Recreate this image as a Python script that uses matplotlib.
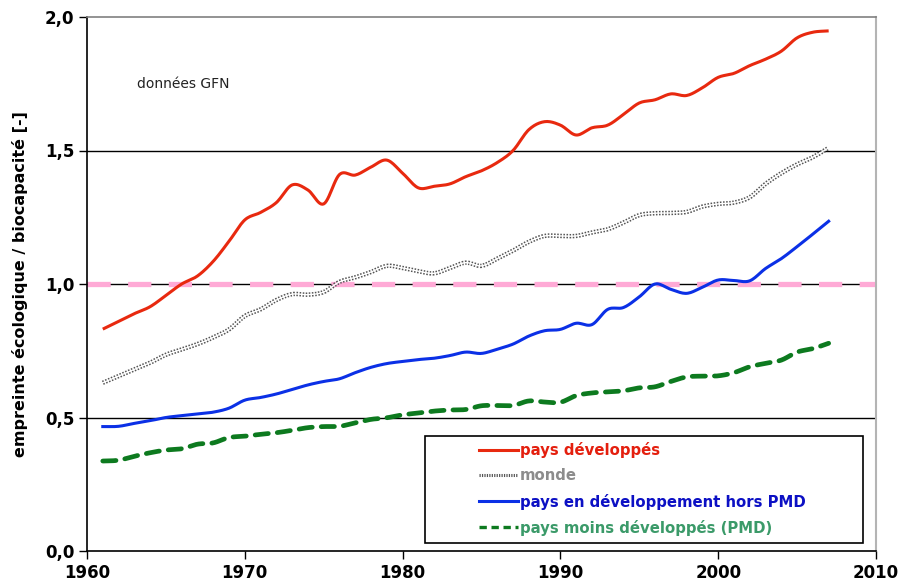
import numpy as np
import matplotlib
matplotlib.use('Agg')
import matplotlib.pyplot as plt
from matplotlib.patches import Rectangle
from matplotlib.lines import Line2D

years = list(range(1961, 2008))

developed = [0.831, 0.860, 0.889, 0.915, 0.957, 1.000, 1.030, 1.085, 1.160, 1.240,
             1.268, 1.305, 1.371, 1.352, 1.300, 1.410, 1.408, 1.438, 1.464, 1.415,
             1.360, 1.366, 1.375, 1.402, 1.424, 1.455, 1.500, 1.578, 1.608, 1.595,
             1.558, 1.585, 1.595, 1.635, 1.678, 1.690, 1.712, 1.706, 1.735, 1.774,
             1.789, 1.818, 1.842, 1.872, 1.922, 1.943, 1.948]

world = [0.630, 0.655, 0.680, 0.705, 0.735, 0.755, 0.775, 0.800, 0.830, 0.880,
         0.905, 0.940, 0.962, 0.960, 0.970, 1.008, 1.025, 1.045, 1.068, 1.060,
         1.048, 1.040, 1.060, 1.080, 1.068, 1.095, 1.125, 1.158, 1.180, 1.180,
         1.180, 1.193, 1.205, 1.230, 1.258, 1.265, 1.266, 1.270, 1.290, 1.300,
         1.305, 1.325, 1.375, 1.415, 1.448, 1.475, 1.510]

developing = [0.466, 0.467, 0.478, 0.488, 0.500, 0.507, 0.513, 0.520, 0.535, 0.565,
              0.575, 0.588, 0.605, 0.622, 0.635, 0.645, 0.668, 0.688, 0.702, 0.710,
              0.717, 0.722, 0.732, 0.745, 0.740, 0.756, 0.775, 0.805, 0.825, 0.830,
              0.853, 0.848, 0.905, 0.912, 0.952, 1.000, 0.980, 0.965, 0.988, 1.015,
              1.013, 1.012, 1.058, 1.095, 1.140, 1.187, 1.235]

least_dev = [0.337, 0.340, 0.355, 0.368, 0.378, 0.383, 0.400, 0.405, 0.425, 0.430,
             0.437, 0.443, 0.452, 0.462, 0.466, 0.467, 0.480, 0.493, 0.499, 0.510,
             0.517, 0.524, 0.528, 0.530, 0.544, 0.545, 0.545, 0.562, 0.558, 0.557,
             0.582, 0.592, 0.596, 0.600, 0.611, 0.615, 0.635, 0.652, 0.655, 0.656,
             0.668, 0.690, 0.703, 0.715, 0.745, 0.758, 0.778]

labels = ['pays développés', 'monde', 'pays en développement hors PMD',
          'pays moins développés (PMD)']
yticks = [0.0, 0.5, 1.0, 1.5, 2.0]
xticks = [1960, 1970, 1980, 1990, 2000, 2010]


def smooth(x, y, n=12):
    # catmull-rom curve through the points, like excel's smoothed lines
    x = np.asarray(x, float)
    y = np.asarray(y, float)
    px = np.concatenate([[2 * x[0] - x[1]], x, [2 * x[-1] - x[-2]]])
    py = np.concatenate([[2 * y[0] - y[1]], y, [2 * y[-1] - y[-2]]])
    t = np.linspace(0, 1, n, endpoint=False)
    xs, ys = [], []
    for i in range(1, len(px) - 2):
        for p, out in ((px, xs), (py, ys)):
            p0, p1, p2, p3 = p[i - 1], p[i], p[i + 1], p[i + 2]
            out.append(0.5 * (2 * p1 + (-p0 + p2) * t
                              + (2 * p0 - 5 * p1 + 4 * p2 - p3) * t ** 2
                              + (-p0 + 3 * p1 - 3 * p2 + p3) * t ** 3))
    xs.append([x[-1]])
    ys.append([y[-1]])
    return np.concatenate(xs), np.concatenate(ys)


fig = plt.figure(figsize=(8.98, 5.84), dpi=100)
ax = fig.add_axes([87 / 898, 33 / 584, 789 / 898, 534 / 584])

ax.set_xlim(1960, 2010)
ax.set_ylim(0, 2.0)

for v in [0.5, 1.0, 1.5]:
    ax.axhline(v, color='black', lw=1, zorder=1)

ax.axhline(1.0, color='#ffaad6', lw=3.8, linestyle=(0, (4.4, 3.3)), zorder=2, clip_on=False)

red = '#e8290f'
blue = '#0b30e6'
green = '#0d7a1f'

xs, ys = smooth(years, developed)
ax.plot(xs, ys, color=red, lw=2.2, zorder=5, solid_capstyle='butt')

xs, ys = smooth(years, world)
ax.plot(xs, ys, color='#555555', lw=3.2, linestyle=(0, (0.35, 0.35)), zorder=4)
ax.plot(xs, ys, color='white', lw=1.0, zorder=4)

xs, ys = smooth(years, developing)
ax.plot(xs, ys, color=blue, lw=2.2, zorder=5)

xs, ys = smooth(years, least_dev)
ax.plot(xs, ys, color=green, lw=3.4, linestyle=(0, (2.8, 1.9)),
        dash_capstyle='round', zorder=5)

ax.set_xticks(xticks)
ax.set_yticks(yticks)
ax.set_xticklabels([str(x) for x in xticks], fontsize=12, fontweight='bold')
ax.set_yticklabels([f'{v:.1f}'.replace('.', ',') for v in yticks],
                   fontsize=12, fontweight='bold')
ax.tick_params(length=6, width=1, direction='out', pad=3)

ax.spines['left'].set_linewidth(1.2)
ax.spines['bottom'].set_linewidth(1.2)
ax.spines['top'].set_color('#808080')
ax.spines['top'].set_linewidth(1.2)
ax.spines['right'].set_color('#b4b4b4')
ax.spines['right'].set_linewidth(1.5)

ax.set_ylabel('empreinte écologique / biocapacité [-]', fontsize=11.5,
              fontweight='bold', labelpad=12)

ax.text(1963.2, 1.75, 'données GFN', fontsize=10, color='#222222',
        va='center', ha='left')

# legend frame drawn separately so the entries can sit inside with a left margin
ax.add_patch(Rectangle((0.428, 0.015), 0.555, 0.2, transform=ax.transAxes,
                       facecolor='white', edgecolor='black', lw=1.2, zorder=6))

handles = [
    Line2D([], [], color=red, lw=2.2),
    Line2D([], [], color='#555555', lw=2.2, linestyle=(0, (0.4, 0.4))),
    Line2D([], [], color=blue, lw=2.2),
    Line2D([], [], color=green, lw=2.4, linestyle=(0, (2.2, 1.4))),
]
leg = ax.legend(handles, labels, loc='upper left', bbox_to_anchor=(0.482, 0.226),
                frameon=False, handlelength=2.6, handletextpad=0.12,
                labelspacing=0.68, borderpad=0.3,
                prop={'weight': 'bold', 'size': 10.75})
leg.set_zorder(7)
text_colors = ['#e41f0e', '#8c8c8c', '#0c10c4', '#3b9a69']
for t, c in zip(leg.get_texts(), text_colors):
    t.set_color(c)

fig.savefig('out.png', dpi=100)
